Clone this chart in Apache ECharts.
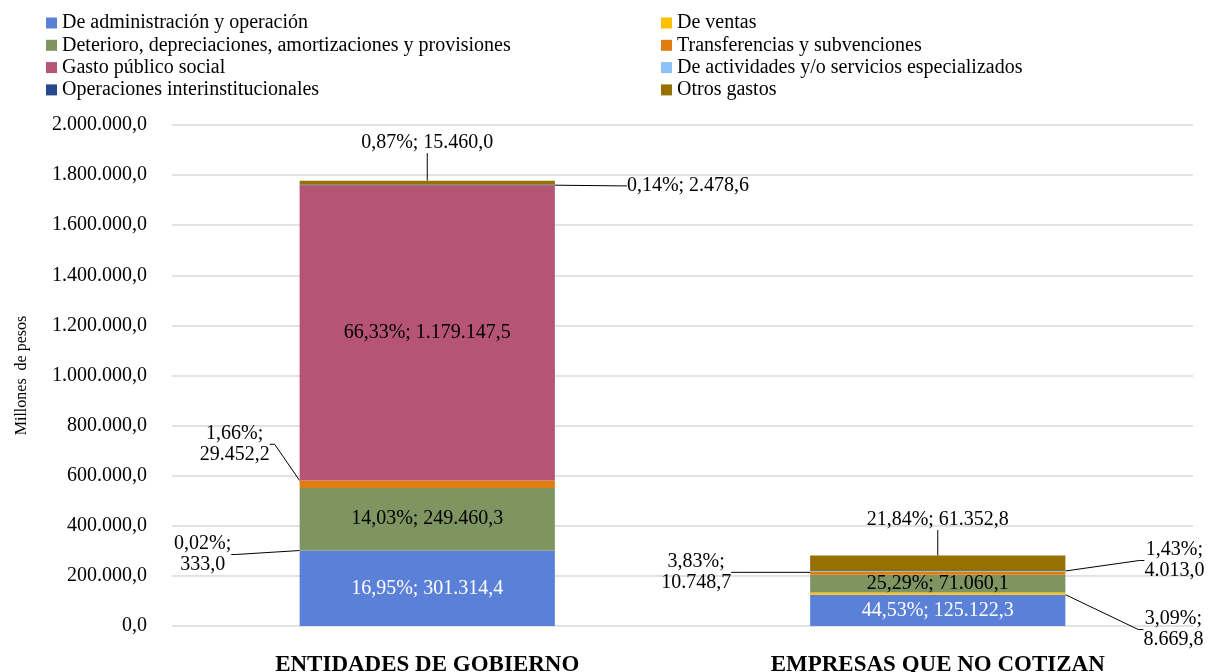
<!DOCTYPE html>
<html>
<head>
<meta charset="utf-8">
<script src="https://cdn.jsdelivr.net/npm/echarts@6/dist/echarts.min.js"></script>
<style>
html, body { margin: 0; padding: 0; background: #fff; }
#chart { width: 1223px; height: 672px; }
</style>
</head>
<body>
<div id="chart"></div>
<script>
'use strict';

var categories = ['ENTIDADES DE GOBIERNO', 'EMPRESAS QUE NO COTIZAN'];

var seriesNames = [
    'De administración y operación',
    'De ventas',
    'Deterioro, depreciaciones, amortizaciones y provisiones',
    'Transferencias y subvenciones',
    'Gasto público social',
    'De actividades y/o servicios especializados',
    'Operaciones interinstitucionales',
    'Otros gastos'
];

// millones de pesos, [entidades, empresas]
var admin = [301314.4, 125122.3];
var ventas = [333.0, 8669.8];
var deterioro = [249460.3, 71060.1];
var transferencias = [29452.2, 10748.7];
var gastoSocial = [1179147.5, null];
var actividades = [null, 4013.0];
var operaciones = [2478.6, null];
var otros = [15460.0, 61352.8];

var yTicks = { min: 0, max: 2000000, interval: 200000 };

var values = [admin, ventas, deterioro, transferencias, gastoSocial, actividades, operaciones, otros];

var colors = ['#5B80D7', '#FFC000', '#7E9461', '#E07D10', '#B55474', '#8DC2F6', '#264A8D', '#977100'];

var legendLeft = [seriesNames[0], seriesNames[2], seriesNames[4], seriesNames[6]];
var legendRight = [seriesNames[1], seriesNames[3], seriesNames[5], seriesNames[7]];

// where the outside labels sit, relative to their segment
var place = {
    'De ventas': [{ from: 'left', dx: -97, dy: 4 }, { from: 'right', dx: 108, dy: 36 }],
    'Transferencias y subvenciones': [{ from: 'left', dx: -65, dy: -40 }, { from: 'left', dx: -114, dy: -1 }],
    'De actividades y/o servicios especializados': [null, { from: 'right', dx: 109, dy: -11 }],
    'Operaciones interinstitucionales': [{ from: 'right', dx: 72, dy: 1, align: 'left' }, null],
    'Otros gastos': [{ from: 'top', dx: 0, dy: -38 }, { from: 'top', dx: 0, dy: -36 }]
};
var wrapped = ['De ventas', 'Transferencias y subvenciones', 'De actividades y/o servicios especializados'];

var FONT = 'Liberation Serif';

function fmt(v, dec) {
    var parts = v.toFixed(dec).split('.');
    var ent = parts[0].replace(/\B(?=(\d{3})+(?!\d))/g, '.');
    return dec ? ent + ',' + parts[1] : ent;
}

var totals = categories.map(function(c, i) {
    var s = 0;
    values.forEach(function(arr) {
        if (arr[i] != null)
            s += arr[i];
    });
    return s;
});

function makeSeries(name, idx) {
    var outside = place[name];
    var sep = wrapped.indexOf(name) >= 0 ? ';\n' : '; ';
    var s = {
        name: name,
        type: 'bar',
        stack: 'total',
        barWidth: '50%',
        data: values[idx],
        itemStyle: { color: colors[idx] },
        label: {
            show: true,
            position: 'inside',
            fontFamily: FONT,
            fontSize: 20,
            lineHeight: 21,
            color: idx === 0 ? '#fff' : '#000',
            formatter: function(p) {
                var pct = p.value / totals[p.dataIndex] * 100;
                return fmt(pct, 2) + '%' + sep + fmt(p.value, 1);
            }
        }
    };
    if (outside) {
        s.label.position = 'top';
        s.label.align = 'center';
        s.labelLine = {
            show: true,
            length2: 5,
            lineStyle: { color: '#000', width: 1 }
        };
        s.labelLayout = function(params) {
            var pl = outside[params.dataIndex];
            if (!pl)
                return {};
            var r = params.rect;
            var bx = pl.from === 'left' ? r.x : (pl.from === 'right' ? r.x + r.width : r.x + r.width / 2);
            var by = pl.from === 'top' ? r.y : r.y + r.height / 2;
            return {
                x: bx + pl.dx,
                y: by + pl.dy,
                align: pl.align || 'center',
                verticalAlign: 'middle'
            };
        };
    }
    return s;
}

var legendBase = {
    orient: 'vertical',
    top: 13,
    padding: 0,
    itemWidth: 11,
    itemHeight: 11,
    itemGap: 2.3,
    icon: 'rect',
    textStyle: { fontFamily: FONT, fontSize: 20, lineHeight: 20, color: '#000' }
};

var myChart = echarts.init(document.getElementById('chart'));

var option = {
    animation: false,
    backgroundColor: '#fff',
    legend: [
        Object.assign({}, legendBase, { left: 46, data: legendLeft }),
        Object.assign({}, legendBase, { left: 661, data: legendRight })
    ],
    grid: { left: 172, right: 30, top: 125, bottom: 46, outerBoundsMode: 'none' },
    xAxis: {
        type: 'category',
        data: categories,
        axisTick: { show: false },
        axisLine: { show: false },
        axisLabel: {
            margin: 28,
            fontFamily: FONT,
            fontSize: 23,
            fontWeight: 'bold',
            color: '#000'
        }
    },
    yAxis: {
        type: 'value',
        min: yTicks.min,
        max: yTicks.max,
        interval: yTicks.interval,
        name: 'Millones  de pesos',
        nameLocation: 'middle',
        nameGap: 142,
        nameTextStyle: { fontFamily: FONT, fontSize: 16, color: '#000' },
        axisLabel: {
            margin: 25,
            fontFamily: FONT,
            fontSize: 20,
            color: '#000',
            formatter: function(v) { return fmt(v, 1); }
        },
        splitLine: { lineStyle: { color: '#D9D9D9', width: 1.5 } }
    },
    series: seriesNames.map(makeSeries)
};

myChart.setOption(option);
</script>
</body>
</html>
